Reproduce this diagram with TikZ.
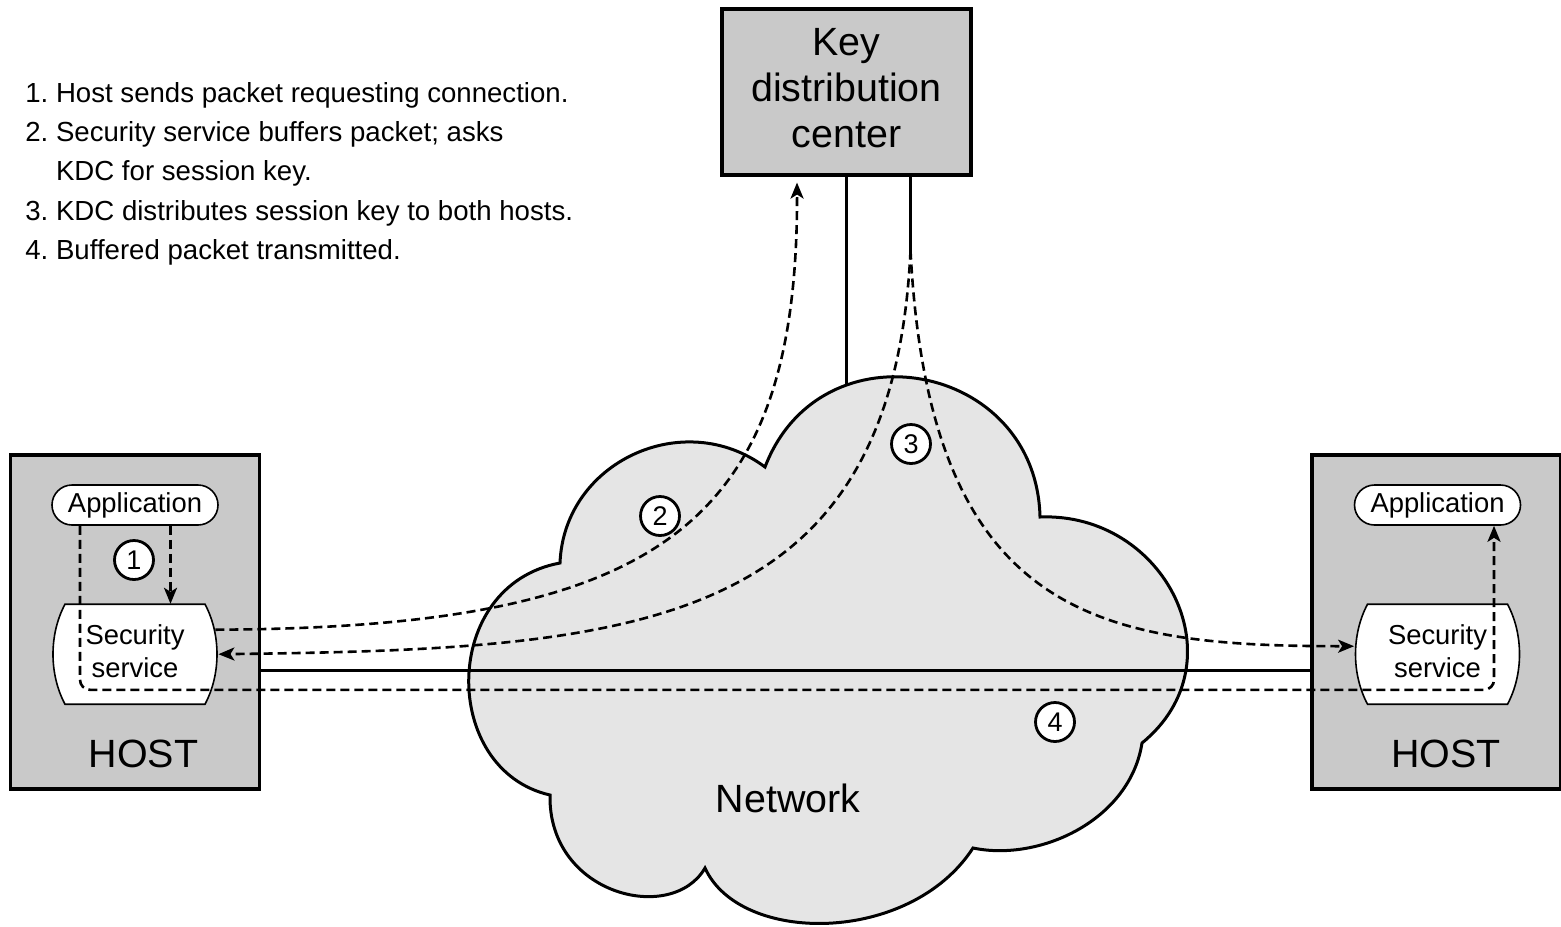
\documentclass[tikz,border=0pt]{standalone}
\usepackage{fontspec}
\setmainfont{Liberation Sans}
\frenchspacing
\usetikzlibrary{arrows.meta, positioning, calc, shapes.misc}
\definecolor{hostgray}{gray}{0.79}
\definecolor{netgray}{gray}{0.9}
\newcommand{\bigtxt}{\fontsize{19.7pt}{23pt}\selectfont}
\newcommand{\midtxt}{\fontsize{13.7pt}{16.5pt}\selectfont}
\newcommand{\steptxt}{\fontsize{13.8pt}{19.6pt}\selectfont}
\newcommand{\numtxt}{\fontsize{13.5pt}{14pt}\selectfont}

\begin{document}
\begin{tikzpicture}[x=0.5pt,y=-0.5pt,
		hbox/.style={draw,rectangle,line width=1.8pt,fill=hostgray,minimum width=124.5pt,minimum height=166.75pt},
		pill/.style={draw,rounded rectangle,line width=0.8pt,fill=white,minimum width=83pt,minimum height=20pt,inner sep=0pt,font=\midtxt},
		svc/.style={rectangle,minimum width=84pt,minimum height=52pt,inner sep=0pt,text depth=3pt,align=center,font=\midtxt,
			path picture={\draw [line width=0.8pt,fill=white]
				([shift={(7pt,-1pt)}]path picture bounding box.north west) -- ([shift={(-7pt,-1pt)}]path picture bounding box.north east)
				.. controls ([shift={(1pt,-16pt)}]path picture bounding box.north east) and ([shift={(1pt,16pt)}]path picture bounding box.south east) .. ([shift={(-7pt,1pt)}]path picture bounding box.south east)
				-- ([shift={(7pt,1pt)}]path picture bounding box.south west)
				.. controls ([shift={(-1pt,16pt)}]path picture bounding box.south west) and ([shift={(-1pt,-16pt)}]path picture bounding box.north west) .. ([shift={(7pt,-1pt)}]path picture bounding box.north west) -- cycle;}},
		num/.style={draw,circle,line width=1.4pt,fill=white,minimum size=19.5pt,inner sep=0pt,font=\numtxt},
		flow/.style={line width=1.3pt,dash pattern=on 4.5pt off 2.5pt},
		tip/.style={-{Stealth[length=8pt,width=6.5pt,inset=2pt]}}
	]
	\useasboundingbox (0,0) rectangle (1561,926);

	\node (steps) [anchor=north west,align=left,inner sep=0pt,font=\steptxt] at (25,82) {1. Host sends packet requesting connection.\\
		2. Security service buffers packet; asks\\
		\phantom{2. }KDC for session key.\\
		3. KDC distributes session key to both hosts.\\
		4. Buffered packet transmitted.};

	\node (lhst) [hbox] at (135,622) {};
	\node (rhst) [hbox] at (1436.5,622) {};
	\node (kdce) [hbox,minimum height=82.75pt,text depth=4.5pt,align=center,font=\bigtxt] at (846.5,92) {Key\\distribution\\center};
	\node (lapp) [pill] at (135,505) {Application};
	\node (lsec) [svc,below=38pt of lapp] {Security\\service};
	\node (rapp) [pill] at (1437.5,505) {Application};
	\node (rsec) [svc,below=38pt of rapp] {Security\\service};
	\node (lhtx) [font=\bigtxt] at (143.5,754) {HOST};
	\node (rhtx) [font=\bigtxt] at (1446,754) {HOST};

	\coordinate (kdcn) at (846.5,430);
	\draw [line width=1.3pt] (kdce.south) -- (kdcn);

	% network cloud
	\draw [line width=1.5pt,fill=netgray] (560,563)
		.. controls (563.9,461.8) and (683.7,406.6) .. (765,467)
		.. controls (820.7,321.8) and (1036.5,361.5) .. (1040,517)
		.. controls (1165,512) and (1241.2,662) .. (1142,743)
		.. controls (1130,820) and (1040,862) .. (973,848)
		.. controls (910,945) and (740,945) .. (705,868)
		.. controls (672,925) and (548,895) .. (550,795)
		.. controls (440,770) and (440,585) .. (560,563) -- cycle;
	\node (netw) [font=\bigtxt] at (788,798) {Network};

	\node (n1) [num] at (134,560) {1};
	\node (n2) [num] at (660,516) {2};
	\node (n3) [num] at (911,444) {3};
	\node (n4) [num] at (1055,722) {4};

	\coordinate (wire) at (0,670);
	\draw [line width=1.5pt] (lhst.east |- wire) -- (rhst.west |- wire);

	\draw [flow,tip] ($(lapp.south)+(35.5,0)$) -- ($(lsec.north)+(35.5,2)$);
	\draw [flow,tip] ($(lsec.east)+(-4,-24.5)$) .. controls +(443,-2) and +(1,344) .. ($(kdce.south)+(-49.5,6)$);

	\coordinate (kdcs) at ($(kdce.south)+(64,74)$);
	\draw [line width=1.3pt] ($(kdce.south)+(64,0)$) -- (kdcs);
	\draw [flow,tip] (kdcs) .. controls +(-18,380) and +(419,-5) .. ($(lsec.east)+(-1,0)$);
	\draw [flow,tip] (kdcs) .. controls +(19,370) and +(-252,0) .. ($(rsec.west)+(1,-8)$);

	\draw [flow,tip,rounded corners=5pt] ($(lapp.south)+(-55,0)$) |- ($(rapp.south)+(56.5,164)$) -- ($(rapp.south)+(56.5,0)$);
\end{tikzpicture}
\end{document}
